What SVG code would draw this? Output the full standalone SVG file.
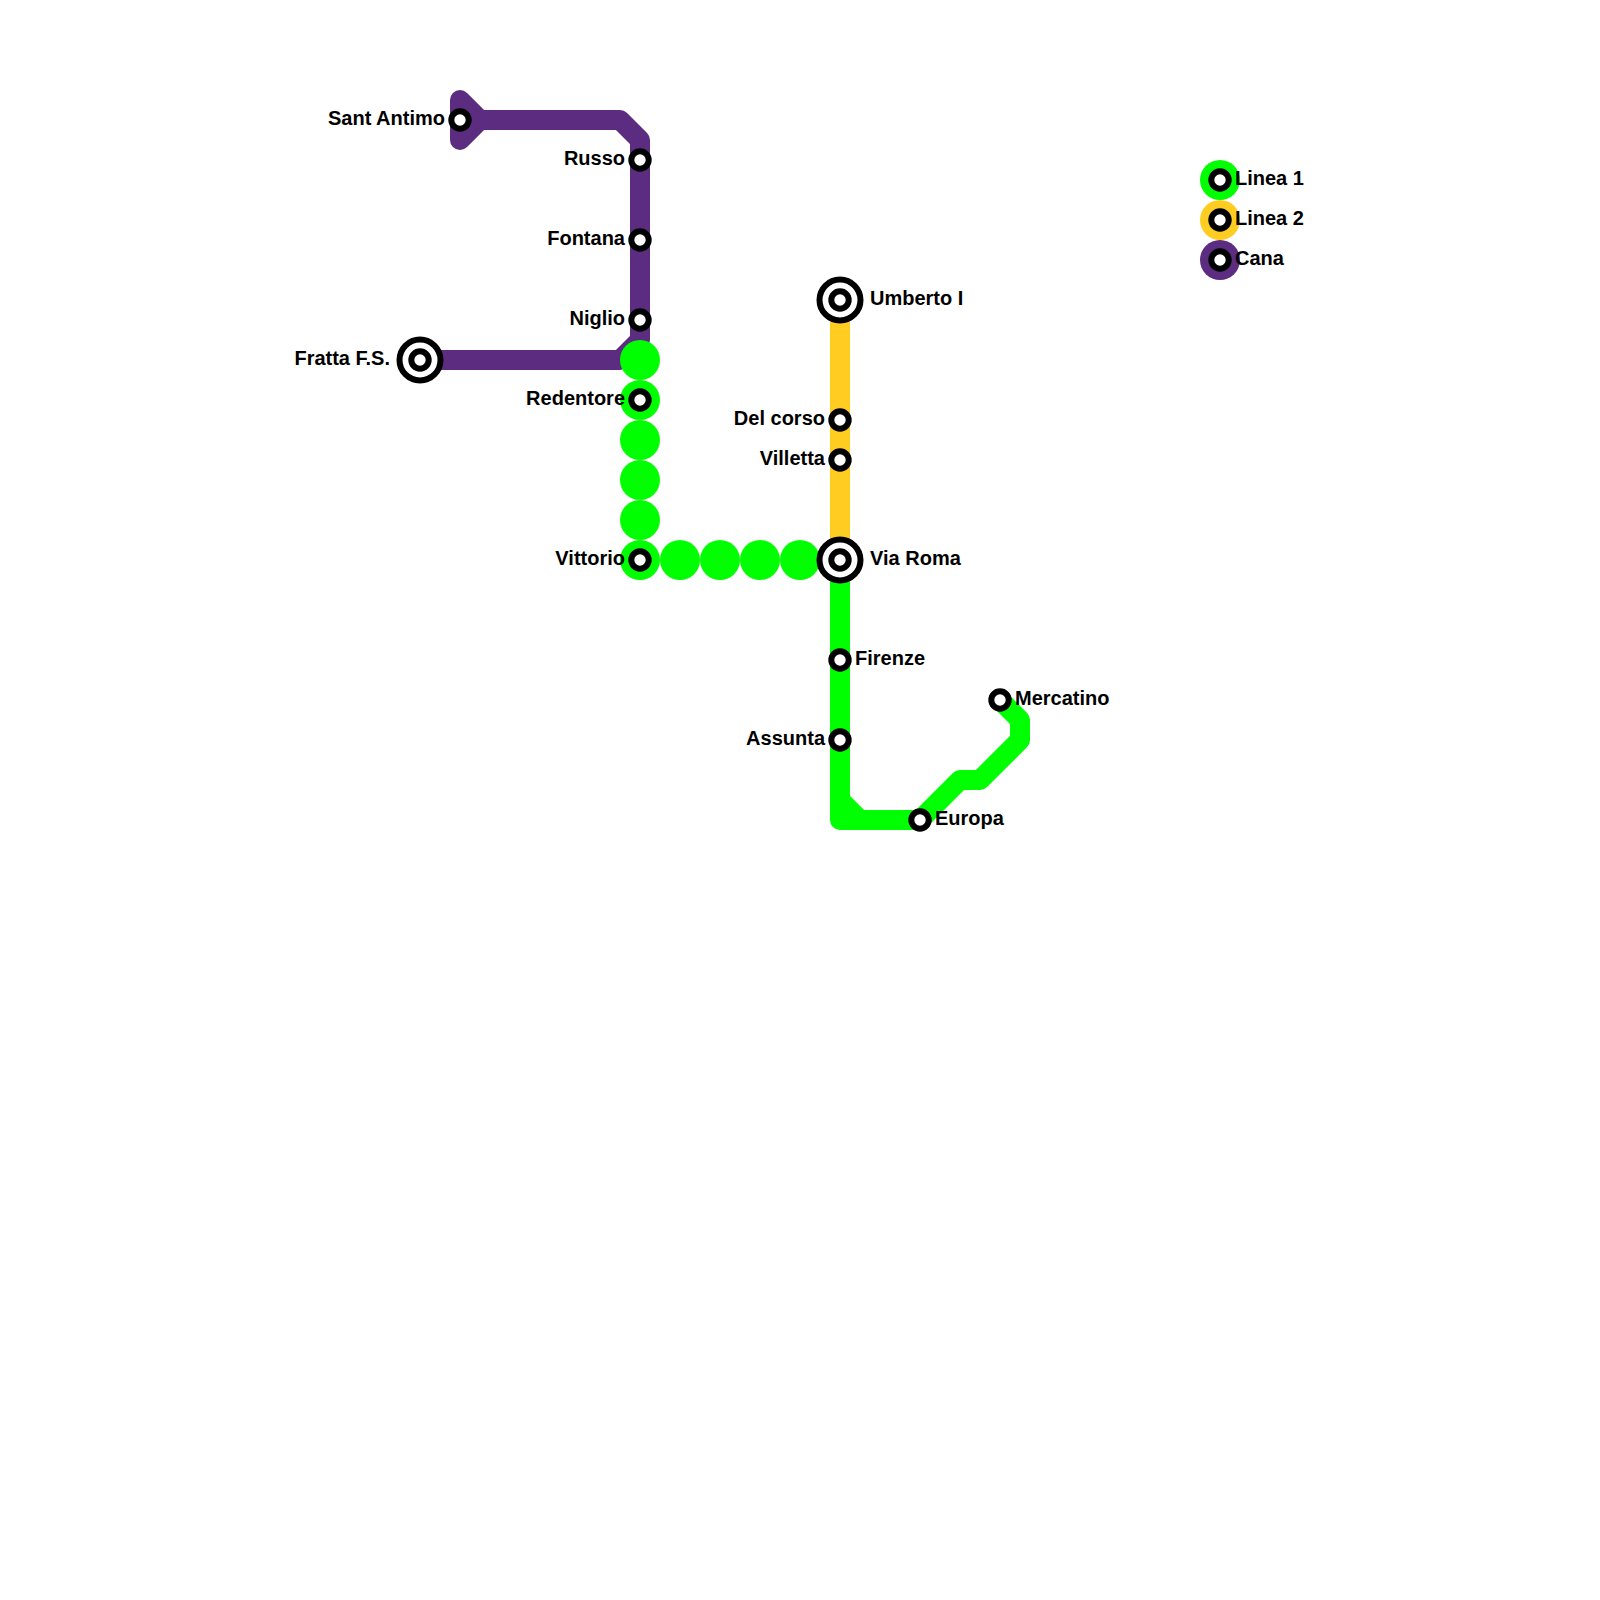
<svg xmlns="http://www.w3.org/2000/svg" width="1600" height="1600" viewBox="0 0 1600 1600">
<style>
.line{fill:none;stroke-width:20;stroke-linejoin:round;stroke-linecap:round}
.g{stroke:#00ff00}.y{stroke:#ffcc22;stroke-linecap:butt}.p{stroke:#5b2c7f}
.dot{stroke:none;fill:#00ff00}
.st{fill:#fff;stroke:#000;stroke-width:6}
.ring{fill:#fff;stroke:#000;stroke-width:6}
text{font-family:"Liberation Sans",Arial,sans-serif;font-weight:700;font-size:20px;fill:#000}
.e{text-anchor:end}
</style>
<rect width="1600" height="1600" fill="#fff"/>
<g id="connectors">
<path class="line p" d="M480 120L460 100V140L480 120H620L640 140V340L620 360H420"/>
<path class="line y" d="M840 300V560"/>
<path class="line g" d="M840 560V820H920L960 780H980L1020 740V720L1000 700M840 800L860 820"/>
<g id="dots">
<circle class="dot" cx="640" cy="360" r="20"/><circle class="dot" cx="640" cy="400" r="20"/><circle class="dot" cx="640" cy="440" r="20"/><circle class="dot" cx="640" cy="480" r="20"/><circle class="dot" cx="640" cy="520" r="20"/><circle class="dot" cx="640" cy="560" r="20"/><circle class="dot" cx="680" cy="560" r="20"/><circle class="dot" cx="720" cy="560" r="20"/><circle class="dot" cx="760" cy="560" r="20"/><circle class="dot" cx="800" cy="560" r="20"/>
</g>
</g>
<g id="sant-antimo"><circle class="st" cx="460" cy="120" r="8.7"/><text class="e" x="445" y="125">Sant Antimo</text></g>
<g id="russo"><circle class="st" cx="640" cy="160" r="8.7"/><text class="e" x="625" y="165">Russo</text></g>
<g id="fontana"><circle class="st" cx="640" cy="240" r="8.7"/><text class="e" x="625" y="245">Fontana</text></g>
<g id="niglio"><circle class="st" cx="640" cy="320" r="8.7"/><text class="e" x="625" y="325">Niglio</text></g>
<g id="fratta"><circle class="ring" cx="420" cy="360" r="20.5"/><circle class="st" cx="420" cy="360" r="8.7"/><text class="e" x="390" y="365">Fratta F.S.</text></g>
<g id="redentore"><circle class="st" cx="640" cy="400" r="8.7"/><text class="e" x="625" y="405">Redentore</text></g>
<g id="vittorio"><circle class="st" cx="640" cy="560" r="8.7"/><text class="e" x="625" y="565">Vittorio</text></g>
<g id="umberto"><circle class="ring" cx="840" cy="300" r="20.5"/><circle class="st" cx="840" cy="300" r="8.7"/><text x="870" y="305">Umberto I</text></g>
<g id="del-corso"><circle class="st" cx="840" cy="420" r="8.7"/><text class="e" x="825" y="425">Del corso</text></g>
<g id="villetta"><circle class="st" cx="840" cy="460" r="8.7"/><text class="e" x="825" y="465">Villetta</text></g>
<g id="via-roma"><circle class="ring" cx="840" cy="560" r="20.5"/><circle class="st" cx="840" cy="560" r="8.7"/><text x="870" y="565">Via Roma</text></g>
<g id="firenze"><circle class="st" cx="840" cy="660" r="8.7"/><text x="855" y="665">Firenze</text></g>
<g id="assunta"><circle class="st" cx="840" cy="740" r="8.7"/><text class="e" x="825" y="745">Assunta</text></g>
<g id="europa"><circle class="st" cx="920" cy="820" r="8.7"/><text x="935" y="825">Europa</text></g>
<g id="mercatino"><circle class="st" cx="1000" cy="700" r="8.7"/><text x="1015" y="705">Mercatino</text></g>
<g id="legend-1"><circle cx="1220" cy="180" r="20" fill="#00ff00"/><circle class="st" cx="1220" cy="180" r="8.7"/><text x="1235" y="185">Linea 1</text></g>
<g id="legend-2"><circle cx="1220" cy="220" r="20" fill="#ffcc22"/><circle class="st" cx="1220" cy="220" r="8.7"/><text x="1235" y="225">Linea 2</text></g>
<g id="legend-3"><circle cx="1220" cy="260" r="20" fill="#5b2c7f"/><circle class="st" cx="1220" cy="260" r="8.7"/><text x="1235" y="265">Cana</text></g>
</svg>
